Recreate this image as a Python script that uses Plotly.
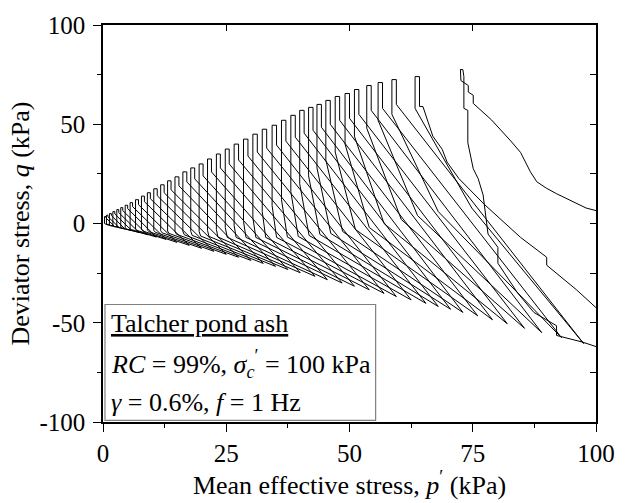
import plotly.graph_objects as go

# ---- data (p' in kPa, q in kPa) ----
# first loading cycle, first extension, and start of second compression
init_p = [100.0, 98.0, 92.0, 90.0, 88.0, 86.7, 84.7, 82.7, 78.8, 75.1,
          75.1, 74.1, 74.1, 73.2, 72.6, 72.5, 73.0, 73.2, 73.2, 74.0,
          74.0, 75.1, 76.1, 77.1, 78.1, 80.1, 80.1, 84.1, 87.4, 92.0,
          92.0, 97.2, 100.0, 104.0, 104.0, 100.0, 96.0, 90.0, 90.0, 84.7,
          77.4, 72.2, 69.8, 68.8, 66.9, 64.9]
init_q = [6.5, 7.8, 15.0, 17.7, 21.0, 26.0, 35.8, 41.6, 52.2, 60.5,
          64.6, 66.2, 69.5, 71.2, 72.0, 77.6, 77.5, 74.0, 58.0, 57.0,
          40.7, 27.6, 22.6, 14.4, -5.3, -12.0, -20.0, -35.0, -44.8, -51.5,
          -56.4, -59.7, -62.0, -64.5, -52.0, -42.4, -33.3, -21.0, -17.0, -7.0,
          9.5, 22.6, 30.9, 37.4, 44.0, 58.9]

# subsequent cycles (2 ... 40)
peak_p = [63.3, 58.6, 55.8, 53.5, 51.0, 49.1, 47.1, 45.2, 43.4, 41.7,
          39.9, 38.1, 36.2, 34.3, 32.3, 30.4, 28.5, 26.6, 24.8, 23.0,
          21.2, 19.5, 17.8, 16.2, 14.6, 13.1, 11.7, 10.3, 9.0, 7.8,
          6.6, 5.5, 4.5, 3.6, 2.8, 2.0, 1.3, 0.7, 0.3]
peak_q = [74.0, 72.5, 71.0, 69.5, 67.5, 65.5, 64.0, 62.0, 60.0, 58.5,
          57.0, 54.5, 52.0, 49.5, 47.5, 45.0, 42.5, 40.0, 37.5, 35.0,
          32.5, 30.0, 28.0, 26.0, 23.5, 21.5, 19.5, 17.5, 15.5, 13.8,
          12.0, 10.5, 9.2, 8.0, 7.0, 6.0, 5.0, 4.2, 3.5]
rise_p = [64.2, 59.5, 56.7, 54.4, 51.9, 50.0, 48.0, 46.1, 44.3, 42.6,
          40.8, 39.0, 37.1, 35.2, 33.2, 31.3, 29.4, 27.5, 25.6, 23.8,
          22.0, 20.3, 18.6, 17.0, 15.4, 13.8, 12.4, 11.0, 9.6, 8.4,
          7.2, 6.0, 5.0, 4.0, 3.2, 2.4, 1.7, 1.0, 0.6]
rise_q = [59.0, 60.0, 58.0, 57.0, 55.0, 53.0, 52.0, 50.0, 48.5, 47.0,
          45.5, 43.5, 41.5, 39.5, 38.0, 36.0, 34.0, 32.0, 30.0, 28.0,
          26.0, 24.0, 22.5, 21.0, 19.0, 17.0, 15.5, 14.0, 12.5, 11.0,
          9.5, 8.5, 7.5, 6.5, 5.5, 4.8, 4.0, 3.4, 2.8]
fall_q = [58.0, 55.0, 52.0, 48.0, 44.0, 40.0, 36.0, 32.0, 28.0, 24.0,
          20.0, 16.0, 12.0, 9.0, 6.0, 3.0, 1.0, -1.0, -2.0, -3.0,
          -3.5, -4.0, -4.0, -4.0, -4.0, -3.8, -3.6, -3.4, -3.2, -3.0,
          -2.8, -2.5, -2.2, -1.9, -1.6, -1.2, -0.8, -0.4, 0.0]
bend_p = [74.8, 68.0, 63.8, 60.5, 57.0, 54.0, 51.2, 48.6, 46.2, 44.0,
          41.8, 39.6, 37.4, 35.2, 33.0, 31.0, 29.0, 27.0, 25.2, 23.3,
          21.5, 19.8, 18.1, 16.5, 14.9, 13.4, 12.0, 10.6, 9.3, 8.1,
          6.9, 5.8, 4.8, 3.9, 3.1, 2.3, 1.6, 1.0, 0.6]
bend_q = [7.8, 6.0, 4.0, 2.0, 0.0, -2.0, -3.0, -4.0, -5.0, -5.5,
          -6.0, -6.5, -6.8, -7.0, -7.0, -7.0, -7.0, -7.0, -7.0, -6.8,
          -6.5, -6.3, -6.0, -5.7, -5.4, -5.0, -4.7, -4.4, -4.1, -3.8,
          -3.5, -3.1, -2.8, -2.4, -2.0, -1.6, -1.2, -0.8, -0.4]
trough_p = [97.5, 93.0, 89.0, 85.5, 82.0, 79.0, 76.0, 73.0, 70.5, 68.0,
            65.5, 62.5, 59.5, 57.0, 54.0, 51.0, 48.5, 45.5, 43.0, 40.0,
            37.5, 35.0, 32.5, 30.0, 27.5, 25.0, 22.5, 20.0, 17.5, 15.0,
            12.8, 10.8, 9.0, 7.3, 5.8, 4.4, 3.2, 2.2, 1.4]
trough_q = [-60.5, -57.5, -55.0, -52.8, -50.5, -48.5, -46.5, -44.8, -43.2, -41.8,
            -40.2, -38.5, -36.8, -35.2, -33.4, -31.6, -30.0, -28.3, -26.6, -24.8,
            -23.2, -21.6, -20.1, -18.6, -17.0, -15.5, -14.0, -12.5, -11.0, -9.5,
            -8.0, -6.8, -5.6, -4.5, -3.5, -2.6, -1.8, -1.1, -0.5]

x_ticks = [0, 25, 50, 75, 100]
x_ticktext = ["0", "25", "50", "75", "100"]
y_ticks = [-100, -50, 0, 50, 100]
y_ticktext = ["-100", "-50", "0", "50", "100"]

# ---- assemble the stress path ----
p_path = list(init_p)
q_path = list(init_q)
for k in range(len(peak_p)):
    p_path += [rise_p[k], rise_p[k], peak_p[k], peak_p[k], bend_p[k], trough_p[k]]
    q_path += [rise_q[k], peak_q[k], peak_q[k], fall_q[k], bend_q[k], trough_q[k]]

FONT = "Liberation Serif"

fig = go.Figure()
fig.add_trace(go.Scatter(x=p_path, y=q_path, mode="lines",
                         line=dict(color="black", width=1),
                         showlegend=False, hoverinfo="skip"))
fig.add_trace(go.Scatter(x=[None], y=[None], xaxis="x2", yaxis="y2",
                         mode="lines", showlegend=False, hoverinfo="skip"))

fig.update_layout(
    width=627, height=503,
    margin=dict(l=103, r=20, t=20, b=78),
    paper_bgcolor="white", plot_bgcolor="white",
    font=dict(family=FONT, size=25, color="black"),
    xaxis=dict(range=[0, 100], tickvals=x_ticks, ticktext=x_ticktext,
               ticks="outside", ticklen=8, tickwidth=1.3, tickcolor="black",
               showline=True, linecolor="black", linewidth=1.5,
               showgrid=False, zeroline=False,
               minor=dict(dtick=12.5, tick0=0, ticks="outside", ticklen=4,
                          tickwidth=1.2, tickcolor="black", showgrid=False),
               title=dict(text="Mean effective stress, <i>p</i><sup>′</sup> (kPa)",
                          font=dict(size=26), standoff=6),
               tickfont=dict(size=25)),
    yaxis=dict(range=[-100, 100], tickvals=y_ticks, ticktext=y_ticktext,
               ticks="outside", ticklen=8, tickwidth=1.3, tickcolor="black",
               showline=True, linecolor="black", linewidth=1.5,
               showgrid=False, zeroline=False, ticklabelstandoff=3,
               minor=dict(dtick=25, tick0=0, ticks="outside", ticklen=4,
                          tickwidth=1.2, tickcolor="black", showgrid=False),
               title=dict(text="Deviator stress, <i>q</i> (kPa)",
                          font=dict(size=26), standoff=2),
               tickfont=dict(size=25)),
    xaxis2=dict(range=[0, 100], overlaying="x", side="top", anchor="y",
                tickvals=x_ticks, ticks="inside", ticklen=6, tickwidth=1.2,
                tickcolor="black", showticklabels=False, showline=True,
                linecolor="black", linewidth=1.5, showgrid=False, zeroline=False),
    yaxis2=dict(range=[-100, 100], overlaying="y", side="right", anchor="x",
                dtick=25, tick0=0, ticks="inside", ticklen=6, tickwidth=1.2,
                tickcolor="black", showticklabels=False, showline=True,
                linecolor="black", linewidth=1.5, showgrid=False, zeroline=False),
)

# annotation box
fig.add_shape(type="rect", xref="paper", yref="paper",
              x0=0.004, x1=0.553, y0=0.004, y1=0.296,
              line=dict(color="#808080", width=1.2), fillcolor="rgba(0,0,0,0)")

notes = [
    ("<u>Talcher pond ash</u>", 0.248),
    ("<i>RC</i> = 99%, <i>σ</i><sub><i>c</i></sub><sup>′</sup> = 100 kPa", 0.145),
    ("<i>γ</i> = 0.6%, <i>f</i> = 1 Hz", 0.048),
]
for txt, yy in notes:
    fig.add_annotation(text=txt, xref="paper", yref="paper", x=0.012, y=yy,
                       xanchor="left", yanchor="middle", showarrow=False,
                       font=dict(family=FONT, size=26, color="black"))

fig.write_html("out.html")
